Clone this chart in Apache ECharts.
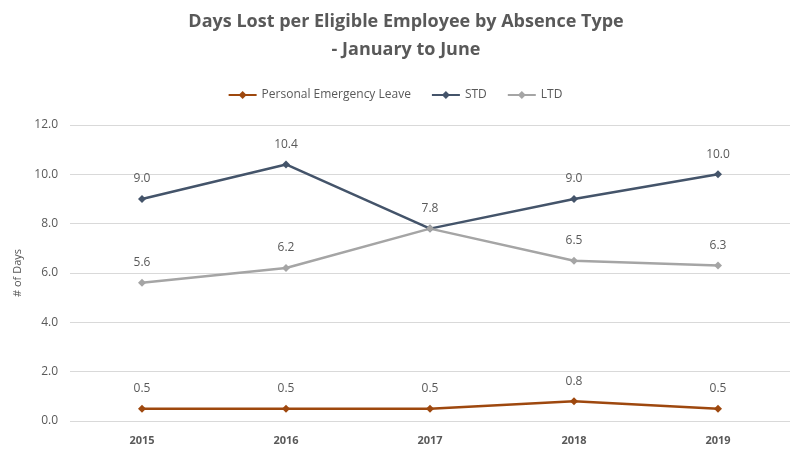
<!DOCTYPE html>
<html>
<head>
<meta charset="utf-8">
<script src="https://cdn.jsdelivr.net/npm/echarts@6/dist/echarts.min.js"></script>
<style>
  html, body { margin: 0; padding: 0; background: #fff; }
  #lineChart { width: 790px; height: 453px; }
</style>
</head>
<body>
<div id="lineChart"></div>
<script>
const years = ['2015', '2016', '2017', '2018', '2019']
const pelValues = [0.5, 0.5, 0.5, 0.8, 0.5]
const stdValues = [9.0, 10.4, 7.8, 9.0, 10.0]
const ltdValues = [5.6, 6.2, 7.8, 6.5, 6.3]
const yTicks = [0, 2, 4, 6, 8, 10, 12]

const font = 'Open Sans'
const textColor = '#595959'

const myChart = echarts.init(document.getElementById('lineChart'))

const makeSeries = (name, data, color) => ({
  name: name,
  type: 'line',
  data: data,
  symbol: 'diamond',
  symbolSize: 8,
  color: color,
  lineStyle: { width: 2.5, color: color },
  itemStyle: { color: color },
  labelLayout: { hideOverlap: true }, // 2017 的两个 7.8 重叠，只留一个
  label: {
    show: true,
    position: 'top',
    distance: 10,
    color: textColor,
    fontFamily: font,
    fontSize: 12,
    formatter: p => p.value.toFixed(1)
  }
})

const option = {
  animation: false,
  title: {
    text: 'Days Lost per Eligible Employee by Absence Type\n- January to June',
    left: 401,
    textAlign: 'center',
    top: 3,
    textStyle: {
      color: textColor,
      fontFamily: font,
      fontWeight: 'bold',
      fontSize: 18,
      lineHeight: 28
    }
  },
  legend: {
    data: ['Personal Emergency Leave', 'STD', 'LTD'],
    left: 'center',
    top: 84,
    itemWidth: 28,
    itemHeight: 10,
    itemGap: 20,
    textStyle: { color: textColor, fontFamily: font, fontSize: 12 }
  },
  grid: {
    left: 70,
    top: 125,
    width: 730,
    height: 296
  },
  xAxis: {
    type: 'category',
    data: years,
    boundaryGap: true,
    axisLine: { show: false },
    axisTick: { show: false },
    axisLabel: { color: textColor, fontFamily: font, fontSize: 11, fontWeight: 'bold', margin: 14 }
  },
  yAxis: {
    type: 'value',
    min: yTicks[0],
    max: yTicks[yTicks.length - 1],
    interval: 2,
    name: '# of Days',
    nameLocation: 'middle',
    nameGap: 44,
    nameTextStyle: { color: textColor, fontFamily: font, fontSize: 11 },
    axisLabel: {
      color: textColor,
      fontFamily: font,
      fontSize: 12,
      margin: 12,
      formatter: v => v.toFixed(1)
    },
    splitLine: { lineStyle: { color: '#d9d9d9', width: 1 } }
  },
  series: [
    makeSeries('Personal Emergency Leave', pelValues, '#9e480e'),
    makeSeries('STD', stdValues, '#44546a'),
    makeSeries('LTD', ltdValues, '#a5a5a5')
  ]
}

option && myChart.setOption(option)
</script>
</body>
</html>
